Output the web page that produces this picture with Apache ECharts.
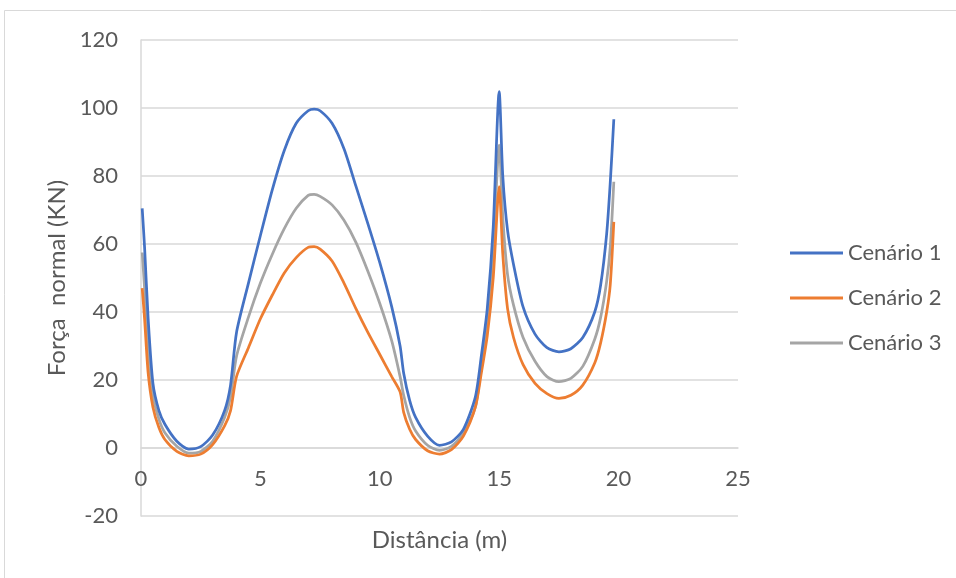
<!DOCTYPE html>
<html>
<head>
<meta charset="utf-8">
<script src="https://cdn.jsdelivr.net/npm/echarts@6/dist/echarts.min.js"></script>
<style>html,body{margin:0;padding:0;background:#fff;}#c{width:956px;height:578px;}</style>
</head>
<body>
<div id="c"></div>
<script>
const seriesNames = ['Cenário 1', 'Cenário 2', 'Cenário 3'];
const distance = [0.05,0.15,0.3,0.5,0.75,1.0,1.5,2.0,2.5,3.0,3.5,3.75,4.0,4.5,5.0,5.5,6.0,6.5,7.0,7.25,7.5,8.0,8.5,9.0,9.5,10.0,10.5,10.85,11.0,11.25,11.5,12.0,12.5,13.0,13.5,14.0,14.25,14.5,14.75,15.0,15.15,15.35,15.6,16.0,16.5,17.0,17.5,18.0,18.5,19.0,19.25,19.5,19.65,19.8];
const cenario1 = [70.5,59,38,19,11,7,2,-0.3,0.4,3.8,11,18.5,34,48.5,62.5,76,87.5,95.5,99.2,99.7,99.2,95.5,88,77,66,54.5,41.5,30,22,14,9,3.5,0.8,1.8,5.5,15,27,41,65,104.8,80,64,54,41.5,33.5,29.5,28.3,29.2,32.5,40,48,63,78,96.7];
const cenario2 = [47,38,22,12,6,2.5,-1,-2.3,-1.8,1,6.5,11,21,29.5,38,45,51.5,56,59,59.2,58.5,55,48.5,41,34,27.5,21,16.5,10.5,5.5,2.5,-0.8,-1.8,-0.5,3.5,12,22,33,50,76.9,57,41,32.5,24.5,19,16,14.6,15.5,18.5,25,31,40,48,66.5];
const cenario3 = [57.5,47,29,15.5,8.5,4.5,0.5,-1.5,-1,2,9,15,27,38.5,48.5,57,64.5,70.5,74.3,74.6,74,71.5,67,60.5,52,42.5,31.5,21,15.5,9,5,0.8,-0.7,0.5,4.5,12,24,36,58,89.1,68,51,42,32.5,25.5,21,19.5,20.5,24,32,38.5,49,59,78.3];
const colors = ['#4472C4', '#ED7D31', '#A5A5A5'];

const toPairs = ys => distance.map((x, i) => [x, ys[i]]);
const allY = [cenario1, cenario2, cenario3];

const font = 'Lato, "Open Sans", sans-serif';
const chart = echarts.init(document.getElementById('c'));
chart.setOption({
  animation: false,
  backgroundColor: '#fff',
  graphic: [{
    type: 'rect', silent: true, z: -10,
    shape: { x: 4.5, y: 10.5, width: 1000, height: 1000 },
    style: { fill: 'none', stroke: '#D9D9D9', lineWidth: 1 }
  }],
  grid: { left: 141, right: 218, top: 40, bottom: 62, containLabel: false, outerBoundsMode: 'none' },
  legend: {
    orient: 'vertical', left: 790, top: 241, padding: 0,
    itemWidth: 53, itemHeight: 3, itemGap: 21, icon: 'rect',
    textStyle: { fontFamily: font, fontSize: 22, color: '#595959', lineHeight: 24 },
    data: seriesNames
  },
  xAxis: {
    type: 'value', min: 0, max: 25, interval: 5,
    offset: -68,
    axisLine: { show: true, onZero: false, lineStyle: { color: '#D9D9D9', width: 1.5 } },
    axisTick: { show: false },
    splitLine: { show: false },
    axisLabel: { fontFamily: font, fontSize: 22, color: '#595959', margin: 20 },
    name: 'Distância (m)', nameLocation: 'middle', nameGap: 80,
    nameTextStyle: { fontFamily: font, fontSize: 24, color: '#595959' }
  },
  yAxis: {
    type: 'value', min: -20, max: 120, interval: 20,
    axisLine: { show: true, lineStyle: { color: '#D9D9D9', width: 1.5 } },
    axisTick: { show: false },
    splitLine: { show: true, lineStyle: { color: '#D9D9D9', width: 1.5 } },
    axisLabel: { fontFamily: font, fontSize: 22, color: '#595959', margin: 23 },
    name: 'Força  normal (KN)', nameLocation: 'middle', nameGap: 68,
    nameTextStyle: { fontFamily: font, fontSize: 24, color: '#595959' }
  },
  series: seriesNames.map((n, i) => ({
    name: n, type: 'line', data: toPairs(allY[i]),
    smooth: 0.25, showSymbol: false, symbol: 'none',
    lineStyle: { color: colors[i], width: 2.75 },
    itemStyle: { color: colors[i] },
    z: 3 - i
  }))
});
</script>
</body>
</html>
